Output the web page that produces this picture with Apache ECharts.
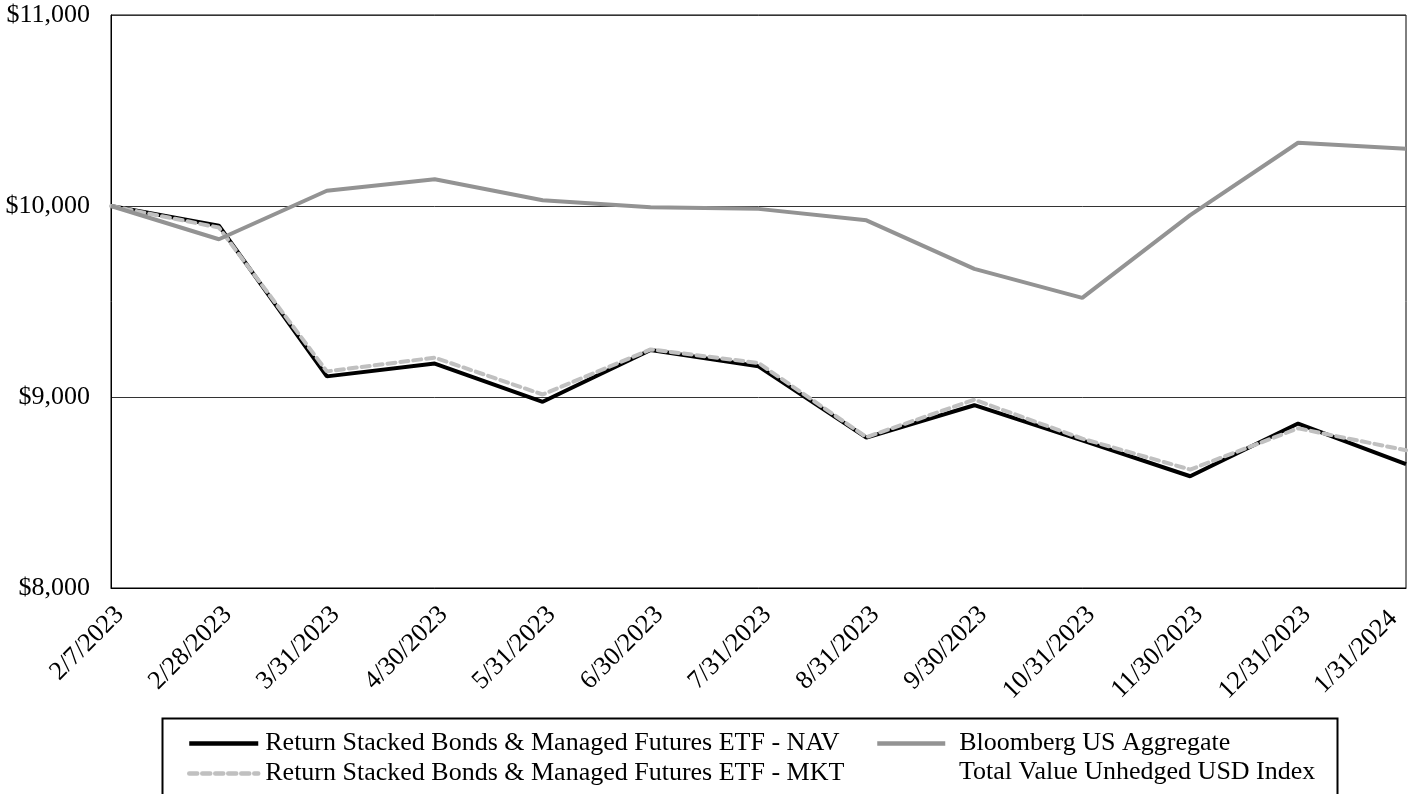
<!DOCTYPE html>
<html>
<head>
<meta charset="utf-8">
<script src="https://cdn.jsdelivr.net/npm/echarts@6/dist/echarts.min.js"></script>
<style>
html,body{margin:0;padding:0;background:#fff;}
#chart{width:1415px;height:794px;}
</style>
</head>
<body>
<div id="chart"></div>
<script>
const categories = ['2/7/2023','2/28/2023','3/31/2023','4/30/2023','5/31/2023','6/30/2023','7/31/2023','8/31/2023','9/30/2023','10/31/2023','11/30/2023','12/31/2023','1/31/2024'];
const navValues = [10000, 9897, 9108, 9175, 8975, 9246, 9161, 8787, 8957, 8773, 8585, 8861, 8649];
const mktValues = [10000, 9887, 9134, 9206, 9013, 9249, 9178, 8790, 8986, 8782, 8620, 8836, 8721];
const aggValues = [10000, 9826, 10080, 10140, 10030, 9993, 9985, 9925, 9671, 9519, 9952, 10331, 10300];
const seriesNames = ['Return Stacked Bonds & Managed Futures ETF - NAV','Return Stacked Bonds & Managed Futures ETF - MKT','Bloomberg US Aggregate Total Value Unhedged USD Index'];
const aggLegendLines = ['Bloomberg US Aggregate','Total Value Unhedged USD Index'];
const yMin = 8000, yMax = 11000, yStep = 1000;

const FONT = '"Liberation Serif","Times New Roman",serif';
const FS = 26;
const chart = echarts.init(document.getElementById('chart'));
chart.setOption({
  animation:false,
  backgroundColor:'#fff',
  grid:{left:111,right:9,top:15,bottom:206,show:true,borderColor:'#000',borderWidth:1,backgroundColor:'transparent',containLabel:false,outerBoundsMode:'none'},
  xAxis:{
    type:'category',data:categories,boundaryGap:false,
    axisLine:{show:true,lineStyle:{color:'#000',width:1}},
    axisTick:{show:false},
    axisLabel:{
      rotate:45,margin:14,color:'#000',fontSize:FS,fontFamily:FONT,interval:0,
      formatter:(v,i)=> i===categories.length-1 ? '{e|'+v+'}' : '{n|'+v+'}',
      rich:{
        n:{fontSize:FS,fontFamily:FONT,color:'#000',padding:[25,0,0,0]},
        e:{fontSize:FS,fontFamily:FONT,color:'#000',padding:[0,18,0,0]}
      }
    },
    splitLine:{show:false}
  },
  yAxis:{
    type:'value',min:yMin,max:yMax,interval:yStep,
    axisLine:{show:true,lineStyle:{color:'#000',width:1}},
    axisTick:{show:false},
    axisLabel:{margin:21,color:'#000',fontSize:FS,fontFamily:FONT,padding:[4,0,0,0],formatter:v=>'$'+v.toLocaleString('en-US')},
    splitLine:{show:true,lineStyle:{color:'#333',width:1}}
  },
  legend:[
    {
      orient:'vertical',left:187,top:729,padding:0,itemGap:1,itemWidth:69,itemHeight:14,
      data:[seriesNames[0],seriesNames[1]],
      itemStyle:{opacity:0},
      lineStyle:{width:4.5},
      textStyle:{color:'#000',fontSize:FS,fontFamily:FONT,lineHeight:29,padding:[0,0,0,2]},
      selectedMode:false
    },
    {
      orient:'vertical',left:875,top:729,padding:0,itemWidth:68,itemHeight:14,
      data:[seriesNames[2]],
      itemStyle:{opacity:0},
      lineStyle:{width:4.5},
      formatter:()=>aggLegendLines[0],
      textStyle:{color:'#000',fontSize:FS,fontFamily:FONT,lineHeight:29,padding:[0,0,0,9]},
      selectedMode:false
    }
  ],
  graphic:[
    {type:'rect',left:160,top:716,shape:{width:1175,height:100},style:{fill:'none',stroke:'#000',lineWidth:2},silent:true,z:-1},
    {type:'text',x:959,y:772,style:{text:aggLegendLines[1],fill:'#000',font:FS+'px '+FONT,verticalAlign:'middle'}}
  ],
  series:[
    {name:seriesNames[0],type:'line',data:navValues,symbol:'none',lineStyle:{color:'#000',width:4},itemStyle:{color:'#000'},z:2},
    {name:seriesNames[1],type:'line',data:mktValues,symbol:'none',lineStyle:{color:'#c0c0c0',width:4,type:[8,5],cap:'round'},itemStyle:{color:'#c0c0c0'},z:3},
    {name:seriesNames[2],type:'line',data:aggValues,symbol:'none',lineStyle:{color:'#939393',width:4},itemStyle:{color:'#939393'},z:4}
  ]
});
</script>
</body>
</html>
